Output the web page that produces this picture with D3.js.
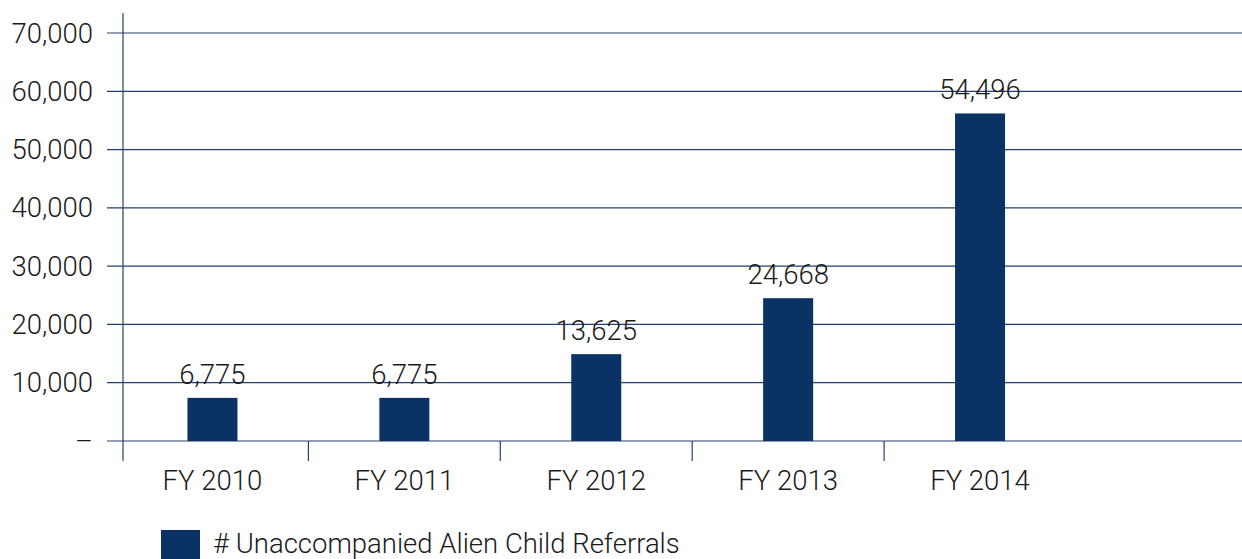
<!DOCTYPE html>
<html>
<head>
<meta charset="utf-8">
<script src="https://cdn.jsdelivr.net/npm/d3@7"></script>
<style>
  body { margin: 0; background: #fff; }
  text { font-family: Roboto, "Noto Sans", sans-serif; font-weight: 300; fill: #1a1a1a; }
</style>
</head>
<body>
<script>
// data (bar heights as drawn, labels as printed)
var years = ["FY 2010", "FY 2011", "FY 2012", "FY 2013", "FY 2014"];
var referrals = [7400, 7400, 14900, 24500, 56200];
var valueLabels = ["6,775", "6,775", "13,625", "24,668", "54,496"];
var yTicks = [0, 10000, 20000, 30000, 40000, 50000, 60000, 70000];
var seriesName = "# Unaccompanied Alien Child Referrals";

var width = 1242, height = 559,
    axisX = 123, plotTop = 33, base = 441,
    fontSize = "27.5px",
    barColor = "#0b3265", lineColor = "#22406f";

var svg = d3.select("body").append("svg")
    .attr("width", width)
    .attr("height", height);

var y = d3.scaleLinear().domain([0, 70000]).range([base, plotTop]);
var x = d3.scaleBand().domain(years).range([116.5, 1076]);

// gridlines
svg.selectAll("line.grid")
    .data(yTicks)
    .enter().append("line")
    .attr("class", "grid")
    .attr("x1", 107).attr("x2", width)
    .attr("y1", function(d) { return y(d); })
    .attr("y2", function(d) { return y(d); })
    .attr("stroke", lineColor)
    .attr("stroke-width", 1.2);

// y axis line
svg.append("line")
    .attr("x1", axisX).attr("x2", axisX)
    .attr("y1", 13).attr("y2", base + 20)
    .attr("stroke", lineColor).attr("stroke-width", 1.2);

// category separators
svg.selectAll("line.sep")
    .data(years.slice(1))
    .enter().append("line")
    .attr("class", "sep")
    .attr("x1", function(d) { return x(d); })
    .attr("x2", function(d) { return x(d); })
    .attr("y1", base).attr("y2", base + 20)
    .attr("stroke", lineColor).attr("stroke-width", 1.2);

// y tick labels
svg.selectAll("text.ytick")
    .data(yTicks)
    .enter().append("text")
    .attr("class", "ytick")
    .attr("x", 93)
    .attr("y", function(d) { return y(d); })
    .attr("dy", "0.35em")
    .attr("text-anchor", "end")
    .style("font-size", fontSize)
    .text(function(d) { return d === 0 ? "–" : d3.format(",")(d); });

// bars
var barW = 50;
svg.selectAll("rect.bar")
    .data(referrals)
    .enter().append("rect")
    .attr("class", "bar")
    .attr("x", function(d, i) { return x(years[i]) + x.bandwidth() / 2 - barW / 2; })
    .attr("y", function(d) { return y(d); })
    .attr("width", barW)
    .attr("height", function(d) { return base - y(d); })
    .attr("fill", barColor);

// value labels
svg.selectAll("text.val")
    .data(referrals)
    .enter().append("text")
    .attr("class", "val")
    .attr("x", function(d, i) { return x(years[i]) + x.bandwidth() / 2; })
    .attr("y", function(d) { return y(d) - 14; })
    .attr("text-anchor", "middle")
    .style("font-size", fontSize)
    .text(function(d, i) { return valueLabels[i]; });

// category labels
svg.selectAll("text.cat")
    .data(years)
    .enter().append("text")
    .attr("class", "cat")
    .attr("x", function(d) { return x(d) + x.bandwidth() / 2; })
    .attr("y", 490)
    .attr("text-anchor", "middle")
    .style("font-size", fontSize)
    .text(function(d) { return d; });

// legend
svg.append("rect")
    .attr("x", 161).attr("y", 530)
    .attr("width", 39).attr("height", 39)
    .attr("fill", barColor);

svg.append("text")
    .attr("x", 213).attr("y", 553)
    .style("font-size", fontSize)
    .text(seriesName);
</script>
</body>
</html>
